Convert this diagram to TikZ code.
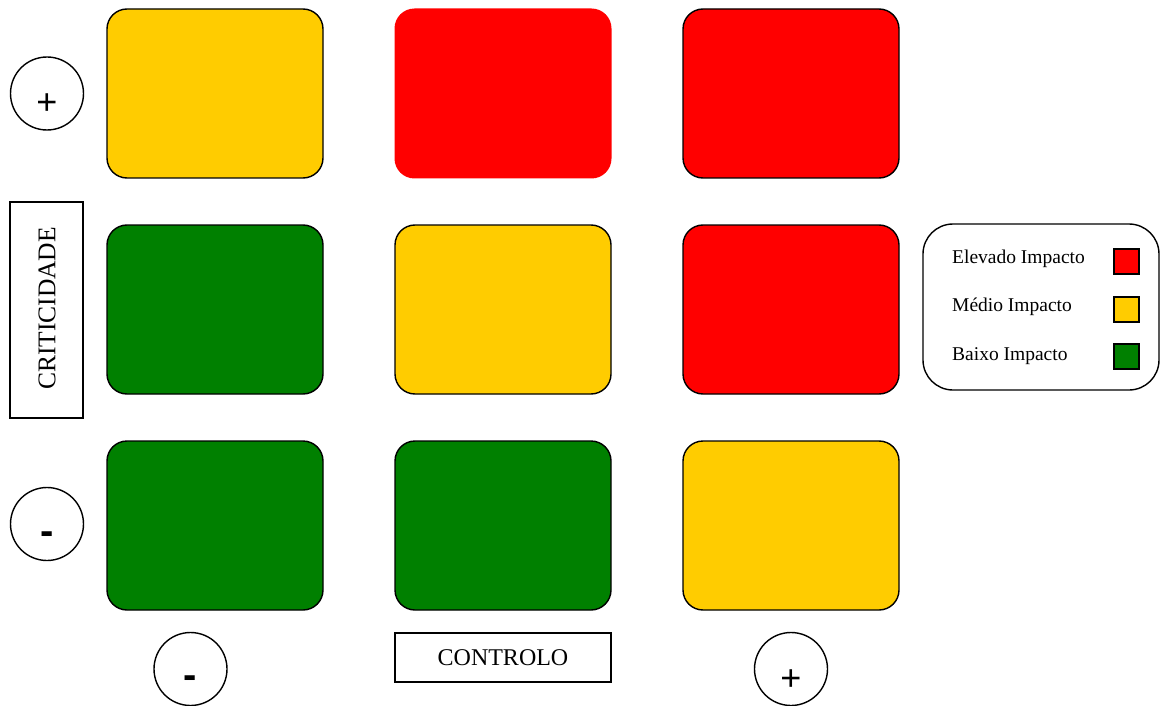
\documentclass[tikz,border=0pt]{standalone}
\usepackage{fontspec}
\setmainfont{Liberation Serif}
\newfontfamily\arialfont{Liberation Sans}
\definecolor{cred}{HTML}{FF0000}
\definecolor{cyellow}{HTML}{FFCC00}
\definecolor{cgreen}{HTML}{008000}
\begin{document}
\begin{tikzpicture}[x=1pt,y=-1pt,
  cell/.style={rectangle,rounded corners=20pt,draw=black,line width=1.4pt,minimum width=216pt,minimum height=169pt,inner sep=0pt,outer sep=0pt},
  nocell/.style={rectangle,rounded corners=20pt,minimum width=217pt,minimum height=170pt,inner sep=0pt,outer sep=0pt},
  sign/.style={circle,draw=black,line width=1.4pt,minimum size=73pt,inner sep=0pt},
  signtxt/.style={inner sep=0pt,font=\arialfont\fontsize{36}{36}\selectfont},
  minustxt/.style={inner sep=0pt,font=\arialfont\bfseries\fontsize{40}{40}\selectfont},
  labelbox/.style={rectangle,draw=black,line width=1.4pt,inner sep=0pt,font=\fontsize{24}{28}\selectfont},
  legtxt/.style={anchor=base west,inner sep=0pt,font=\fontsize{19.5}{24}\selectfont},
  legsq/.style={rectangle,draw=black,line width=1.4pt,minimum size=25pt,inner sep=0pt}
]
\useasboundingbox (0,0) rectangle (1165,706);
% grid
\node[cell,fill=cyellow] (c11) at (215,93.5) {};
\node[nocell,fill=cred] (c12) at (503,93.5) {};
\node[cell,fill=cred] (c13) at (791,93.5) {};
\node[cell,fill=cgreen] (c21) at (215,309.5) {};
\node[cell,fill=cyellow] (c22) at (503,309.5) {};
\node[cell,fill=cred] (c23) at (791,309.5) {};
\node[cell,fill=cgreen] (c31) at (215,525.5) {};
\node[cell,fill=cgreen] (c32) at (503,525.5) {};
\node[cell,fill=cyellow] (c33) at (791,525.5) {};
% axis signs
\node[sign] (plusL) at (47,93.5) {};
\node[signtxt] (plusLt) at (47,104) {+};
\node[sign] (minusL) at (47,524) {};
\node[minustxt] (minusLt) at (47,538) {-};
\node[sign] (minusB) at (190.5,669) {};
\node[minustxt] (minusBt) at (190.5,682) {-};
\node[sign] (plusB) at (791,669) {};
\node[signtxt] (plusBt) at (791,680) {+};
% axis labels
\node[labelbox,minimum width=73pt,minimum height=216pt] (crit) at (46.5,310) {};
\node[inner sep=0pt,rotate=90,font=\fontsize{25.5}{28}\selectfont] (critt) at (47,308.5) {CRITICIDADE};
\node[labelbox,minimum width=216pt,minimum height=49pt] (ctrl) at (503,657.5) {CONTROLO};
% legend
\node[rectangle,rounded corners=30pt,draw=black,line width=1.4pt,minimum width=236pt,minimum height=166pt,inner sep=0pt] (leg) at (1041,307) {};
\node[legtxt] (l1) at (952,263) {Elevado Impacto};
\node[legtxt] (l2) at (952,311) {Médio Impacto};
\node[legtxt] (l3) at (952,360) {Baixo Impacto};
\node[legsq,fill=cred] (s1) at (1126.5,261.5) {};
\node[legsq,fill=cyellow] (s2) at (1126.5,309.5) {};
\node[legsq,fill=cgreen] (s3) at (1126.5,356.5) {};
\end{tikzpicture}
\end{document}
